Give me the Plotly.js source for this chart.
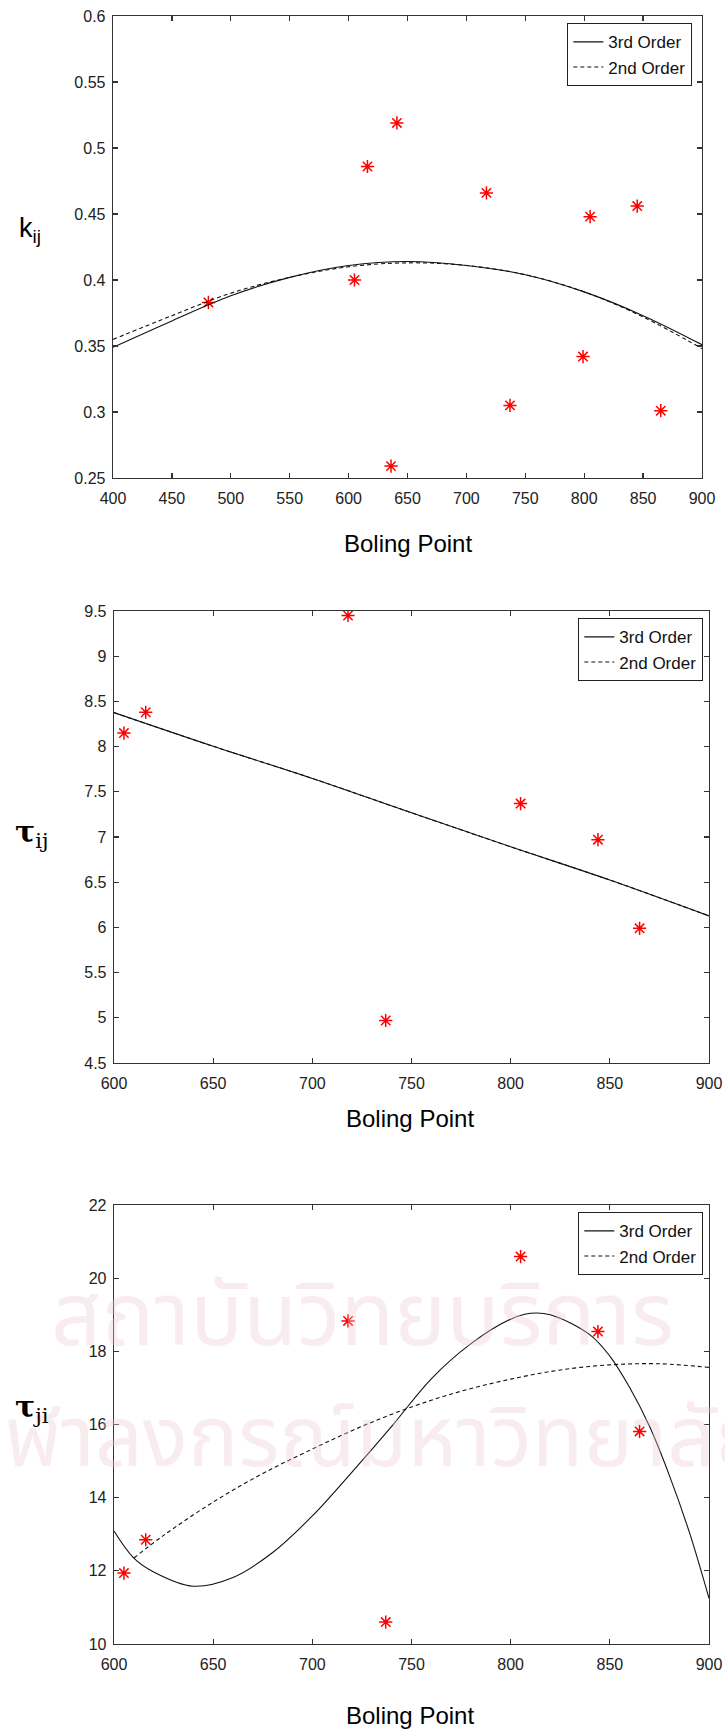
<!DOCTYPE html>
<html>
<head>
<meta charset="utf-8">
<script src="https://cdn.plot.ly/plotly-3.0.1.min.js"></script>
<style>html,body{margin:0;padding:0;background:#fff;}#chart{width:725px;height:1731px;}</style>
</head>
<body>
<div id="chart"></div>
<script>
// ---- Plot 1: k_ij ----
const kPointsX = [481, 605, 616, 636, 641, 717, 737, 799, 805, 845, 865];
const kPointsY = [0.383, 0.400, 0.486, 0.259, 0.519, 0.466, 0.305, 0.342, 0.448, 0.456, 0.301];
const kCurveX = [400, 450, 500, 550, 600, 650, 700, 750, 800, 850, 900];
const kCubicY = [0.349, 0.369, 0.388, 0.402, 0.411, 0.414, 0.411, 0.404, 0.391, 0.373, 0.351];
const kQuadY  = [0.355, 0.373, 0.390, 0.402, 0.410, 0.413, 0.411, 0.404, 0.391, 0.372, 0.348];

// ---- Plot 2: tau_ij ----
const tijPointsX = [605, 616, 718, 737, 805, 844, 865];
const tijPointsY = [8.15, 8.38, 9.45, 4.97, 7.37, 6.97, 5.99];
const tijCurveX = [600, 650, 700, 750, 800, 850, 900];
const tijCubicY = [8.376, 8.004, 7.648, 7.268, 6.892, 6.524, 6.127];
const tijQuadY  = [8.376, 8.004, 7.648, 7.268, 6.892, 6.524, 6.127];

// ---- Plot 3: tau_ji ----
const tjiPointsX = [605, 616, 718, 737, 805, 844, 865];
const tjiPointsY = [11.94, 12.85, 18.83, 10.60, 20.59, 18.54, 15.81];
const tjiCubicX = [600, 610, 620, 640, 660, 680, 700, 720, 740, 760, 780, 800, 810, 820, 840, 850, 860, 870, 880, 890, 900];
const tjiCubicY = [13.09, 12.35, 11.97, 11.58, 11.82, 12.50, 13.50, 14.70, 15.95, 17.25, 18.21, 18.88, 19.04, 19.00, 18.45, 17.87, 17.01, 15.95, 14.61, 13.07, 11.25];
const tjiQuadX = [610, 625, 650, 675, 700, 725, 750, 775, 800, 825, 850, 875, 900];
const tjiQuadY = [12.35, 12.97, 13.88, 14.66, 15.33, 15.95, 16.48, 16.91, 17.24, 17.49, 17.63, 17.66, 17.56];

const seriesNames = ['3rd Order', '2nd Order'];
const xLabel = 'Boling Point';

const FONT = 'Liberation Sans, Arial, Helvetica, sans-serif';
const H = 1731, W = 725;

function pts(x, y, ax) {
  return {x: x, y: y, xaxis: 'x' + ax, yaxis: 'y' + ax, type: 'scatter', mode: 'markers',
    showlegend: false, hoverinfo: 'skip',
    marker: {symbol: 'asterisk-open', size: 11, color: 'red', line: {color: 'red', width: 1.5}}};
}
function line(x, y, ax, name, dash, leg) {
  return {x: x, y: y, xaxis: 'x' + ax, yaxis: 'y' + ax, type: 'scatter', mode: 'lines',
    name: name, legend: leg, line: {color: '#111', width: 1.1, dash: dash, shape: 'spline', smoothing: 1}};
}

const traces = [
  pts(kPointsX, kPointsY, ''),
  line(kCurveX, kCubicY, '', seriesNames[0], 'solid', 'legend'),
  line(kCurveX, kQuadY, '', seriesNames[1], '4px,3px', 'legend'),
  pts(tijPointsX, tijPointsY, '2'),
  line(tijCurveX, tijCubicY, '2', seriesNames[0], 'solid', 'legend2'),
  line(tijCurveX, tijQuadY, '2', seriesNames[1], '4px,3px', 'legend2'),
  pts(tjiPointsX, tjiPointsY, '3'),
  line(tjiCubicX, tjiCubicY, '3', seriesNames[0], 'solid', 'legend3'),
  line(tjiQuadX, tjiQuadY, '3', seriesNames[1], '4px,3px', 'legend3')
];

const axBase = {showline: true, linecolor: '#333', linewidth: 1.3, mirror: 'ticks', ticks: 'inside',
  ticklen: 5, tickcolor: '#333', tickwidth: 1.2, showgrid: false, zeroline: false,
  tickfont: {family: FONT, size: 16, color: '#222'}};

function xa(dom, anchor, range) {
  return Object.assign({}, axBase, {domain: dom, anchor: anchor, range: range, dtick: 50, tick0: 0, ticklabelstandoff: 5});
}
function ya(dom, anchor, range, dtick) {
  return Object.assign({}, axBase, {domain: dom, anchor: anchor, range: range, dtick: dtick, tick0: 0, ticklabelstandoff: 3});
}
function legendAt(right, top) {
  return {x: right / W, xanchor: 'right', y: 1 - top / H, yanchor: 'top', bgcolor: 'white',
    bordercolor: '#222', borderwidth: 1.3, font: {family: FONT, size: 17, color: '#111'},
    itemwidth: 30, tracegroupgap: 0, traceorder: 'normal'};
}
function ann(text, xpx, ypx, size, extra) {
  return Object.assign({text: text, x: xpx / W, y: 1 - ypx / H, xref: 'paper', yref: 'paper',
    showarrow: false, xanchor: 'center', yanchor: 'middle', font: {family: FONT, size: size, color: '#000'}}, extra || {});
}

const layout = {
  width: W, height: H, margin: {l: 0, r: 0, t: 0, b: 0},
  paper_bgcolor: 'white', plot_bgcolor: 'rgba(0,0,0,0)',
  xaxis: xa([113 / W, 702 / W], 'y', [400, 900]),
  yaxis: ya([1 - 478 / H, 1 - 16 / H], 'x', [0.25, 0.6], 0.05),
  xaxis2: xa([114 / W, 709 / W], 'y2', [600, 900]),
  yaxis2: ya([1 - 1063 / H, 1 - 611 / H], 'x2', [4.5, 9.5], 0.5),
  xaxis3: xa([114 / W, 709 / W], 'y3', [600, 900]),
  yaxis3: ya([1 - 1644 / H, 1 - 1205 / H], 'x3', [10, 22], 2),
  legend: legendAt(692, 23),
  legend2: legendAt(703, 618),
  legend3: legendAt(703, 1212),
  annotations: [
    ann('สถาบันวิทยบริการ', 362, 1318, 88, {font: {family: 'Noto Sans Thai, Noto Sans, DejaVu Sans, sans-serif', size: 88, color: 'rgba(236,200,208,0.35)'}}),
    ann('จุฬาลงกรณ์มหาวิทยาลัย', 362, 1440, 84, {font: {family: 'Noto Sans Thai, Noto Sans, DejaVu Sans, sans-serif', size: 84, color: 'rgba(236,200,208,0.35)'}}),
    ann(xLabel, 408, 543, 24),
    ann(xLabel, 410, 1118, 24),
    ann(xLabel, 410, 1715, 24),
    ann('k<sub>ij</sub>', 30, 230, 27),
    ann('<b>τ</b><sub>ij</sub>', 32, 834, 30, {font: {family: 'DejaVu Serif, Liberation Serif, serif', size: 30, color: '#000'}}),
    ann('<b>τ</b><sub>ji</sub>', 32, 1408, 30, {font: {family: 'DejaVu Serif, Liberation Serif, serif', size: 30, color: '#000'}})
  ]
};

Plotly.newPlot('chart', traces, layout, {staticPlot: true, displayModeBar: false});
</script>
</body>
</html>
